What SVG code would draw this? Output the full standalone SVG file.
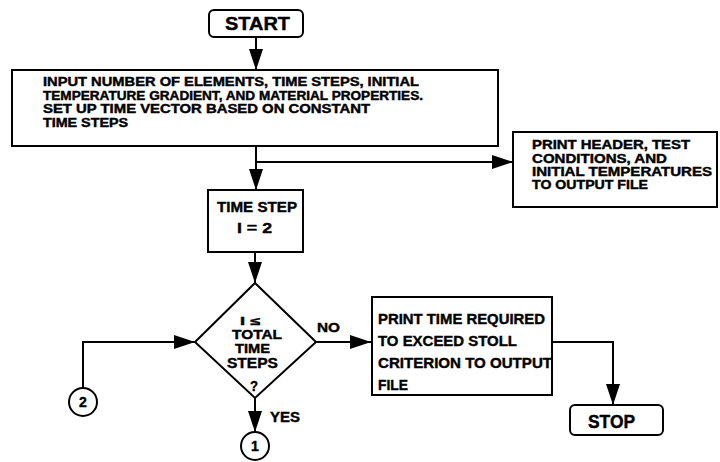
<svg xmlns="http://www.w3.org/2000/svg" width="720" height="462" viewBox="0 0 720 462">
  <style>
    .box { fill: #fff; stroke: #000; stroke-width: 2; }
    .ln { fill: none; stroke: #000; stroke-width: 2; }
    .t { font-family: "Liberation Sans", Arial, sans-serif; font-weight: bold; fill: #000; stroke: #000; stroke-width: 0.4; }
  </style>
  <defs>
    <marker id="arrow" markerUnits="userSpaceOnUse" markerWidth="22" markerHeight="16" viewBox="0 0 22 16" refX="21" refY="8" orient="auto">
      <path d="M0,1 L21,8 L0,15 Z" fill="#000"/>
    </marker>
  </defs>

  <rect width="720" height="462" fill="#fff"/>

  <!-- connectors -->
  <g id="connectors">
    <line class="ln" x1="256" y1="37" x2="256" y2="70" marker-end="url(#arrow)"/>
    <line class="ln" x1="256" y1="146" x2="256" y2="190" marker-end="url(#arrow)"/>
    <line class="ln" x1="256" y1="162" x2="513" y2="162" marker-end="url(#arrow)"/>
    <line class="ln" x1="255" y1="252" x2="255" y2="283" marker-end="url(#arrow)"/>
    <line class="ln" x1="316" y1="342" x2="371" y2="342" marker-end="url(#arrow)"/>
    <polyline class="ln" points="83,388 83,342 195,342" marker-end="url(#arrow)"/>
    <line class="ln" x1="255" y1="398" x2="255" y2="432" marker-end="url(#arrow)"/>
    <polyline class="ln" points="552,342 613,342 613,405" marker-end="url(#arrow)"/>
    <text class="t" x="317" y="332" font-size="13" textLength="23" lengthAdjust="spacingAndGlyphs">NO</text>
    <text class="t" x="270" y="422" font-size="14" textLength="30" lengthAdjust="spacingAndGlyphs">YES</text>
  </g>

  <g id="start">
    <rect class="box" x="209" y="10" width="94" height="27" rx="5"/>
    <text class="t" x="225" y="30" font-size="18" textLength="65" lengthAdjust="spacingAndGlyphs">START</text>
  </g>

  <g id="input">
    <rect class="box" x="12" y="70" width="486" height="76"/>
    <text class="t" x="43" y="86" font-size="12" textLength="376" lengthAdjust="spacingAndGlyphs">INPUT NUMBER OF ELEMENTS, TIME STEPS, INITIAL</text>
    <text class="t" x="43" y="99.5" font-size="12" textLength="380" lengthAdjust="spacingAndGlyphs">TEMPERATURE GRADIENT, AND MATERIAL PROPERTIES.</text>
    <text class="t" x="43" y="113" font-size="12" textLength="327" lengthAdjust="spacingAndGlyphs">SET UP TIME VECTOR BASED ON CONSTANT</text>
    <text class="t" x="43" y="126.5" font-size="12" textLength="85" lengthAdjust="spacingAndGlyphs">TIME STEPS</text>
  </g>

  <g id="print-header">
    <rect class="box" x="513" y="132" width="204" height="75"/>
    <text class="t" x="532" y="149" font-size="12" textLength="158" lengthAdjust="spacingAndGlyphs">PRINT HEADER, TEST</text>
    <text class="t" x="532" y="162.5" font-size="12" textLength="135" lengthAdjust="spacingAndGlyphs">CONDITIONS, AND</text>
    <text class="t" x="532" y="176" font-size="12" textLength="180" lengthAdjust="spacingAndGlyphs">INITIAL TEMPERATURES</text>
    <text class="t" x="532" y="189" font-size="12" textLength="116" lengthAdjust="spacingAndGlyphs">TO OUTPUT FILE</text>
  </g>

  <g id="time-step">
    <rect class="box" x="208" y="190" width="95" height="62"/>
    <text class="t" x="217" y="211.5" font-size="15" textLength="80" lengthAdjust="spacingAndGlyphs">TIME STEP</text>
    <text class="t" x="237" y="233" font-size="15" textLength="35" lengthAdjust="spacingAndGlyphs">I = 2</text>
  </g>

  <g id="decision">
    <polygon class="box" points="255,283 316,342 255,398 195,342"/>
    <text class="t" x="240" y="325" font-size="11" textLength="20" lengthAdjust="spacingAndGlyphs">I ≤</text>
    <text class="t" x="232" y="338.5" font-size="13" textLength="50" lengthAdjust="spacingAndGlyphs">TOTAL</text>
    <text class="t" x="235" y="352.5" font-size="13" textLength="35" lengthAdjust="spacingAndGlyphs">TIME</text>
    <text class="t" x="227" y="368" font-size="14" textLength="51" lengthAdjust="spacingAndGlyphs">STEPS</text>
    <text class="t" x="250" y="391" font-size="14" textLength="8" lengthAdjust="spacingAndGlyphs">?</text>
  </g>

  <g id="print-time">
    <rect class="box" x="372" y="297" width="180" height="98"/>
    <text class="t" x="378" y="324" font-size="14" textLength="167" lengthAdjust="spacingAndGlyphs">PRINT TIME REQUIRED</text>
    <text class="t" x="378" y="346" font-size="14" textLength="139" lengthAdjust="spacingAndGlyphs">TO EXCEED STOLL</text>
    <text class="t" x="378" y="368" font-size="14" textLength="174" lengthAdjust="spacingAndGlyphs">CRITERION TO OUTPUT</text>
    <text class="t" x="378" y="390" font-size="14" textLength="30" lengthAdjust="spacingAndGlyphs">FILE</text>
  </g>

  <g id="stop">
    <rect class="box" x="570" y="405" width="93" height="30" rx="5"/>
    <text class="t" x="588" y="428" font-size="18" textLength="47" lengthAdjust="spacingAndGlyphs">STOP</text>
  </g>

  <g id="connector-1">
    <circle class="box" cx="255" cy="446" r="14"/>
    <text class="t" x="255" y="451" font-size="14" text-anchor="middle">1</text>
  </g>

  <g id="connector-2">
    <circle class="box" cx="83" cy="402" r="14"/>
    <text class="t" x="83" y="407" font-size="14" text-anchor="middle">2</text>
  </g>
</svg>
